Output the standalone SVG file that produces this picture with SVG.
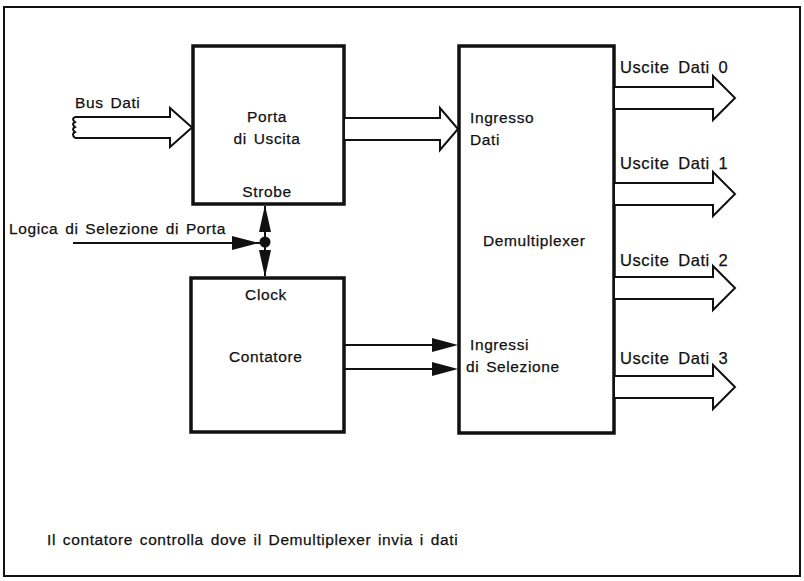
<svg xmlns="http://www.w3.org/2000/svg" width="804" height="581" viewBox="0 0 804 581">
<style>
.t{font-family:"Liberation Sans",Arial,sans-serif;font-size:15.5px;letter-spacing:0.6px;word-spacing:2px;fill:#111;stroke:#111;stroke-width:0.25}
.w{font-size:16.5px;word-spacing:3.5px;letter-spacing:0.6px}
.box{fill:#fff;stroke:#111;stroke-width:3.5}
.ln{fill:none;stroke:#111;stroke-width:2}
.hol{fill:#fff;stroke:#111;stroke-width:2;stroke-linejoin:miter}
.sol{fill:#111;stroke:none}
</style>
<rect x="0" y="0" width="804" height="581" fill="#fff"/>
<rect x="4" y="7" width="796" height="569" fill="none" stroke="#111" stroke-width="2"/>
<g id="porta">
<rect class="box" x="193" y="46" width="151" height="158"/>
<text class="t" x="267" y="122" text-anchor="middle">Porta</text>
<text class="t" x="267" y="144" text-anchor="middle">di Uscita</text>
<text class="t" x="267" y="197" text-anchor="middle">Strobe</text>
</g>
<g id="contatore">
<rect class="box" x="191" y="278" width="153" height="154"/>
<text class="t" x="266" y="300" text-anchor="middle">Clock</text>
<text class="t" x="229" y="362">Contatore</text>
</g>
<g id="demux">
<rect class="box" x="459" y="46" width="155" height="387"/>
<text class="t" x="470" y="123">Ingresso</text>
<text class="t" x="470" y="145">Dati</text>
<text class="t" x="483" y="246">Demultiplexer</text>
<text class="t" x="470" y="350">Ingressi</text>
<text class="t" x="466" y="372">di Selezione</text>
</g>
<g id="labels">
<text class="t" x="75" y="108">Bus Dati</text>
<text class="t" x="9" y="234">Logica di Selezione di Porta</text>
<text class="t w" x="620" y="73">Uscite Dati 0</text>
<text class="t w" x="620" y="169">Uscite Dati 1</text>
<text class="t w" x="620" y="266">Uscite Dati 2</text>
<text class="t w" x="620" y="364">Uscite Dati 3</text>
<text class="t" x="47" y="545">Il contatore controlla dove il Demultiplexer invia i dati</text>
</g>
<g id="connectors">
<path class="hol" d="M75,117 L170,117 L170,108 L192,127.5 L170,147 L170,138 L75,138"/>
<path class="ln" d="M75,117 q-4,2 0,5 q-4,2 0,5 q-4,2 0,5 q-4,2 0,6"/>
<path class="hol" d="M345,118 L440,118 L440,108 L458,129 L440,150 L440,140 L345,140"/>
<path class="hol" d="M615,87 L713,87 L713,76 L735,98 L713,120 L713,109 L615,109"/>
<path class="hol" d="M615,183 L713,183 L713,172 L735,194 L713,216 L713,205 L615,205"/>
<path class="hol" d="M615,277 L713,277 L713,266 L735,288 L713,310 L713,299 L615,299"/>
<path class="hol" d="M615,376 L713,376 L713,365 L735,387 L713,409 L713,398 L615,398"/>
<line class="ln" x1="265" y1="206" x2="265" y2="276"/>
<path class="sol" d="M265,205 L259,232 L271,232 Z"/>
<path class="sol" d="M265,277 L259,250 L271,250 Z"/>
<circle class="sol" cx="265" cy="242" r="5.5"/>
<line class="ln" x1="73" y1="243" x2="262" y2="243"/>
<path class="sol" d="M259,243 L232,236 L232,250 Z"/>
<line class="ln" x1="345" y1="345" x2="440" y2="345"/>
<path class="sol" d="M458,345 L432,338 L432,352 Z"/>
<line class="ln" x1="345" y1="369" x2="440" y2="369"/>
<path class="sol" d="M458,369 L432,362 L432,376 Z"/>
</g>
</svg>
